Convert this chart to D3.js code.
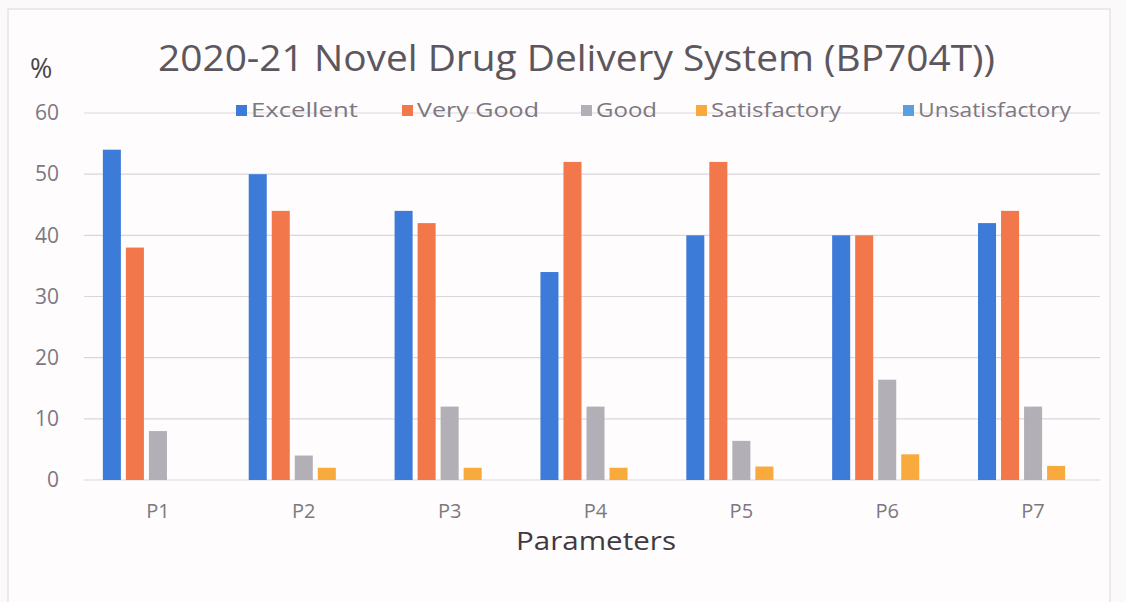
<!DOCTYPE html>
<html>
<head>
<meta charset="utf-8">
<script src="https://cdn.jsdelivr.net/npm/d3@7"></script>
<style>
  body { margin: 0; background: #fcf9fb; }
  svg { display: block; }
</style>
</head>
<body>
<div id="chart"></div>
<script>
// values
var params = ["P1", "P2", "P3", "P4", "P5", "P6", "P7"];
var seriesNames = ["Excellent", "Very Good", "Good", "Satisfactory", "Unsatisfactory"];
var excellent = [54, 50, 44, 34, 40, 40, 42];
var veryGood = [38, 44, 42, 52, 52, 40, 44];
var good = [8, 4, 12, 12, 6.4, 16.4, 12];
var satisfactory = [0, 2, 2, 2, 2.2, 4.2, 2.3];
var unsatisfactory = [0, 0, 0, 0, 0, 0, 0];
var yTicks = [0, 10, 20, 30, 40, 50, 60];

var colors = ["#3d7bd8", "#f2774b", "#b3afb7", "#f8aa3c", "#5b9fe0"];
var allSeries = [excellent, veryGood, good, satisfactory, unsatisfactory];

var W = 1126, H = 602;
var margin = {top: 113, right: 26, bottom: 122, left: 84},
    width = W - margin.left - margin.right,
    height = H - margin.top - margin.bottom;

var font = "'Open Sans', 'Noto Sans', sans-serif";

var svg = d3.select("#chart")
  .append("svg")
    .attr("width", W)
    .attr("height", H);

// chart frame
svg.append("rect")
  .attr("x", 8).attr("y", 9)
  .attr("width", 1102).attr("height", 600)
  .attr("fill", "#fefcfd")
  .attr("stroke", "#ddd6dc");

var g = svg.append("g")
  .attr("transform", "translate(" + margin.left + "," + margin.top + ")");

// group centres sit at 158 ... 1033 on the page
var x = d3.scaleBand()
  .domain(params)
  .range([1, 1022])
  .paddingInner(0.245)
  .paddingOuter(0.1225);

var x1 = d3.scaleBand()
  .domain(seriesNames)
  .range([0, x.bandwidth()])
  .paddingInner(0.217);

var y = d3.scaleLinear()
  .domain([0, 60])
  .range([height, 0]);

// gridlines
g.append("g")
  .selectAll("line")
  .data(yTicks)
  .enter()
  .append("line")
    .attr("x1", 0)
    .attr("x2", width)
    .attr("y1", function(d) { return y(d); })
    .attr("y2", function(d) { return y(d); })
    .attr("stroke", "#ddd5dc")
    .attr("stroke-width", 1.2);

// y tick labels
var yAxis = g.append("g")
  .call(d3.axisLeft(y).tickValues(yTicks).tickSize(0).tickPadding(25));
yAxis.select(".domain").remove();
yAxis.selectAll("text")
  .attr("fill", "#7d7880")
  .style("font-family", font)
  .style("font-size", "21px");

// x tick labels
var xAxis = g.append("g")
  .attr("transform", "translate(0," + height + ")")
  .call(d3.axisBottom(x).tickSize(0).tickPadding(24));
xAxis.select(".domain").remove();
xAxis.selectAll("text")
  .attr("fill", "#7d7880")
  .style("font-family", font)
  .style("font-size", "20px");

// bars
var rows = params.map(function(p, i) {
  return seriesNames.map(function(s, j) {
    return {param: p, series: s, value: allSeries[j][i], color: colors[j]};
  });
});

g.append("g")
  .selectAll("g")
  .data(rows)
  .enter()
  .append("g")
    .attr("transform", function(d) { return "translate(" + x(d[0].param) + ",0)"; })
  .selectAll("rect")
  .data(function(d) { return d; })
  .enter()
  .append("rect")
    .attr("x", function(d) { return x1(d.series); })
    .attr("width", x1.bandwidth())
    .attr("y", function(d) { return y(d.value); })
    .attr("height", function(d) { return height - y(d.value); })
    .attr("fill", function(d) { return d.color; });

// title
svg.append("text")
  .attr("x", 158)
  .attr("y", 71)
  .attr("textLength", 837)
  .attr("lengthAdjust", "spacingAndGlyphs")
  .attr("fill", "#5c575e")
  .style("font-family", font)
  .style("font-size", "36px")
  .text("2020-21 Novel Drug Delivery System (BP704T))");

// y unit
svg.append("text")
  .attr("x", 30)
  .attr("y", 78)
  .attr("fill", "#4a4549")
  .style("font-family", font)
  .style("font-size", "27px")
  .text("%");

// x axis title
svg.append("text")
  .attr("x", 516)
  .attr("y", 550)
  .attr("textLength", 160)
  .attr("lengthAdjust", "spacingAndGlyphs")
  .attr("fill", "#3f3a40")
  .style("font-family", font)
  .style("font-size", "26px")
  .text("Parameters");

// legend
var legendX = [236, 402, 581, 696, 903];
var legendW = [107, 122, 61, 130, 153];
var legend = svg.append("g")
  .selectAll("g")
  .data(seriesNames)
  .enter()
  .append("g")
    .attr("transform", function(d, i) { return "translate(" + legendX[i] + ",110)"; });

legend.append("rect")
  .attr("x", 0).attr("y", -5)
  .attr("width", 11).attr("height", 11)
  .attr("fill", function(d, i) { return colors[i]; });

legend.append("text")
  .attr("x", 15)
  .attr("y", 7)
  .attr("textLength", function(d, i) { return legendW[i]; })
  .attr("lengthAdjust", "spacingAndGlyphs")
  .attr("fill", "#7d7880")
  .style("font-family", font)
  .style("font-size", "20px")
  .text(function(d) { return d; });
</script>
</body>
</html>
